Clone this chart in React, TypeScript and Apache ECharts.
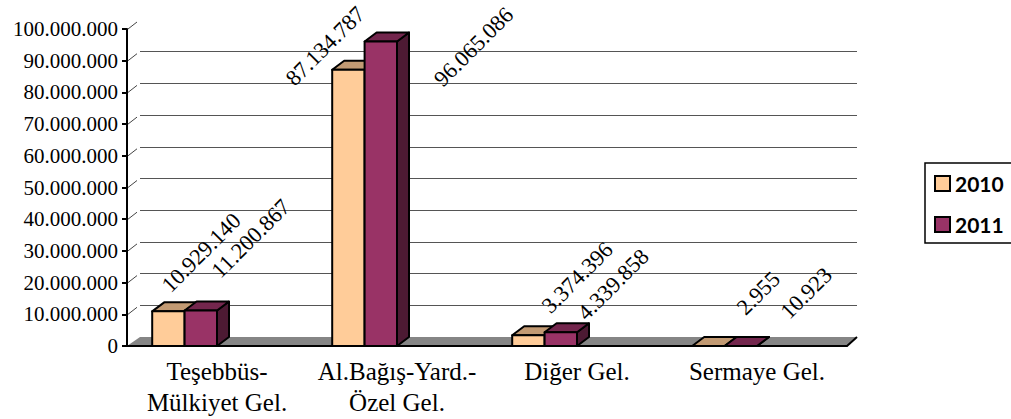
import React, { useEffect, useRef } from "react";
import * as echarts from "echarts";

const categories = ["Teşebbüs-\nMülkiyet Gel.", "Al.Bağış-Yard.-\nÖzel Gel.", "Diğer Gel.", "Sermaye Gel."];
const seriesNames = ["2010", "2011"];
const values2010 = [10929140, 87134787, 3374396, 2955];
const values2011 = [11200867, 96065086, 4339858, 10923];
const yMin = 0;
const yMax = 100000000;
const yStep = 10000000;
const yTicks = [0, 10000000, 20000000, 30000000, 40000000, 50000000, 60000000, 70000000, 80000000, 90000000, 100000000];

// label baseline-start offsets (px) from the top centre of each bar's front face
const labelShift2010 = [[-5, -22], [-61, 13], [15, -25], [30, -34]];
const labelShift2011 = [[12.5, -35.5], [55, 42], [18.5, -15], [41.5, -30]];

const frontColors = ["#FFCC99", "#993366"];
const topColors = ["#C29A73", "#73264D"];
const sideColors = ["#BF9973", "#4D1A33"];

const W = 1011;
const H = 419;
const G = { left: 127, top: 29, right: 164, bottom: 73 };
const DEPTH = { dx: 13, dy: -9 };
const BAR_DEPTH = { dx: 12, dy: -9 };
const SERIF = "Liberation Serif, serif";
const LABEL_ANCHOR = [2, -1];

const fmt = (v: number) => String(Math.round(v)).replace(/\B(?=(\d{3})+(?!\d))/g, ".");

const makeRender = (s: number) => (params: any, api: any) => {
  const i = api.value(0);
  const v = api.value(1);
  const base = api.coord([i, 0]);
  const top = api.coord([i, v]);
  const cw = api.size([1, 0])[0];
  const bw = cw * 0.18;
  const { dx, dy } = BAR_DEPTH;
  const x0 = base[0] - (2 - s) * bw;
  const x1 = x0 + bw;
  const yb = base[1];
  const yt = top[1];
  const stroke = { stroke: "#000", lineWidth: 2, lineJoin: "round" };
  const shift = (s === 0 ? labelShift2010 : labelShift2011)[params.dataIndex];
  const fs = 22.5;
  const cx = (x0 + x1) / 2;
  return {
    type: "group",
    children: [
      {
        type: "polygon",
        shape: { points: [[x1, yt], [x1 + dx, yt + dy], [x1 + dx, yb + dy], [x1, yb]] },
        style: { fill: sideColors[s], ...stroke },
      },
      {
        type: "polygon",
        shape: { points: [[x0, yt], [x1, yt], [x1 + dx, yt + dy], [x0 + dx, yt + dy]] },
        style: { fill: topColors[s], ...stroke },
      },
      {
        type: "rect",
        shape: { x: x0, y: yt, width: bw, height: yb - yt },
        style: { fill: frontColors[s], ...stroke },
      },
      {
        type: "text",
        x: cx + shift[0] + LABEL_ANCHOR[0],
        y: yt + shift[1] + LABEL_ANCHOR[1],
        rotation: Math.PI / 4,
        style: {
          text: fmt(v),
          fontSize: fs,
          fontFamily: SERIF,
          fill: "#000",
          align: "left",
          verticalAlign: "middle",
          textAlign: "left",
          textVerticalAlign: "middle",
        },
      },
    ],
  };
};

export default function App() {
  const ref = useRef<HTMLDivElement>(null);
  useEffect(() => {
    if (!ref.current) return;
    const chart = echarts.init(ref.current, undefined, { renderer: "svg" });
    const option: any = {
      animation: false,
      backgroundColor: "#fff",
      color: frontColors,
      grid: [
        { left: G.left, top: G.top, right: G.right, bottom: G.bottom },
        { left: G.left + DEPTH.dx, top: G.top + DEPTH.dy, right: G.right - 10, bottom: G.bottom - DEPTH.dy },
      ],
      xAxis: [
        {
          type: "category",
          gridIndex: 0,
          data: categories,
          axisLine: { lineStyle: { color: "#000", width: 2 } },
          axisTick: { length: 6, lineStyle: { color: "#000", width: 2 } },
          axisLabel: {
            color: "#000",
            fontFamily: SERIF,
            fontSize: 25,
            lineHeight: 31,
            margin: 10,
            interval: 0,
          },
          z: 5,
        },
        { type: "category", gridIndex: 1, data: categories, show: false },
      ],
      yAxis: [
        {
          type: "value",
          gridIndex: 0,
          min: yMin,
          max: yMax,
          interval: yStep,
          axisLine: { show: true, lineStyle: { color: "#000", width: 2 } },
          axisTick: { show: true, length: 5, lineStyle: { color: "#000", width: 2 } },
          splitLine: { show: false },
          axisLabel: { color: "#000", fontFamily: SERIF, fontSize: 21, margin: 9, formatter: (v: number) => fmt(v) },
          z: 5,
        },
        {
          type: "value",
          gridIndex: 1,
          min: yMin,
          max: yMax,
          interval: yStep,
          axisLine: { show: false },
          axisTick: { show: false },
          axisLabel: { show: false },
          splitLine: { show: true, showMinLine: false, showMaxLine: false, lineStyle: { color: "#555", width: 1 } },
        },
      ],
      legend: {
        orient: "vertical",
        left: 925,
        top: 163,
        padding: [10, 40, 8, 9],
        itemGap: 20,
        itemWidth: 15,
        itemHeight: 15,
        borderColor: "#000",
        borderWidth: 1.5,
        textStyle: { fontFamily: "Lato", fontWeight: "bold", fontSize: 21, color: "#000" },
        data: seriesNames.map((n, s) => ({
          name: n,
          icon: "rect",
          itemStyle: { color: frontColors[s], borderColor: "#000", borderWidth: 2 },
        })),
      },
      series: [values2010, values2011].map((vals, s) => ({
        type: "custom",
        name: seriesNames[s],
        xAxisIndex: 0,
        yAxisIndex: 0,
        clip: false,
        z: 3,
        itemStyle: { color: frontColors[s] },
        encode: { x: 0, y: 1 },
        data: vals.map((v, i) => [i, v]),
        renderItem: makeRender(s),
      })),
    };
    chart.setOption(option);

    // decorations: floor and side-wall gridline stubs, placed via the y axis scale
    const y0 = chart.convertToPixel({ yAxisIndex: 0 }, 0) as number;
    const xL = G.left;
    const xR = W - G.right;
    const elems: any[] = [
      {
        type: "polygon",
        z: 1,
        shape: {
          points: [
            [xL, y0],
            [xR, y0],
            [xR + DEPTH.dx - 3, y0 + DEPTH.dy],
            [xL + DEPTH.dx, y0 + DEPTH.dy],
          ],
        },
        style: { fill: "#858585", stroke: "none" },
      },
      {
        type: "line",
        z: 2,
        shape: { x1: xR, y1: y0, x2: xR + DEPTH.dx - 3, y2: y0 + DEPTH.dy },
        style: { stroke: "#000", lineWidth: 2 },
      },
    ];
    yTicks.forEach((t) => {
      if (t === 0) return;
      const y = chart.convertToPixel({ yAxisIndex: 0 }, t) as number;
      elems.push({
        type: "line",
        z: 1,
        shape: { x1: xL + 1, y1: y, x2: xL + DEPTH.dx - 3, y2: y + DEPTH.dy + 2 },
        style: { stroke: "#444", lineWidth: 1 },
      });
    });
    chart.setOption({ graphic: { elements: elems } });

    return () => chart.dispose();
  }, []);
  return (
    <div
      ref={ref}
      style={{ position: "absolute", left: 0, top: 0, width: W, height: H }}
    />
  );
}
